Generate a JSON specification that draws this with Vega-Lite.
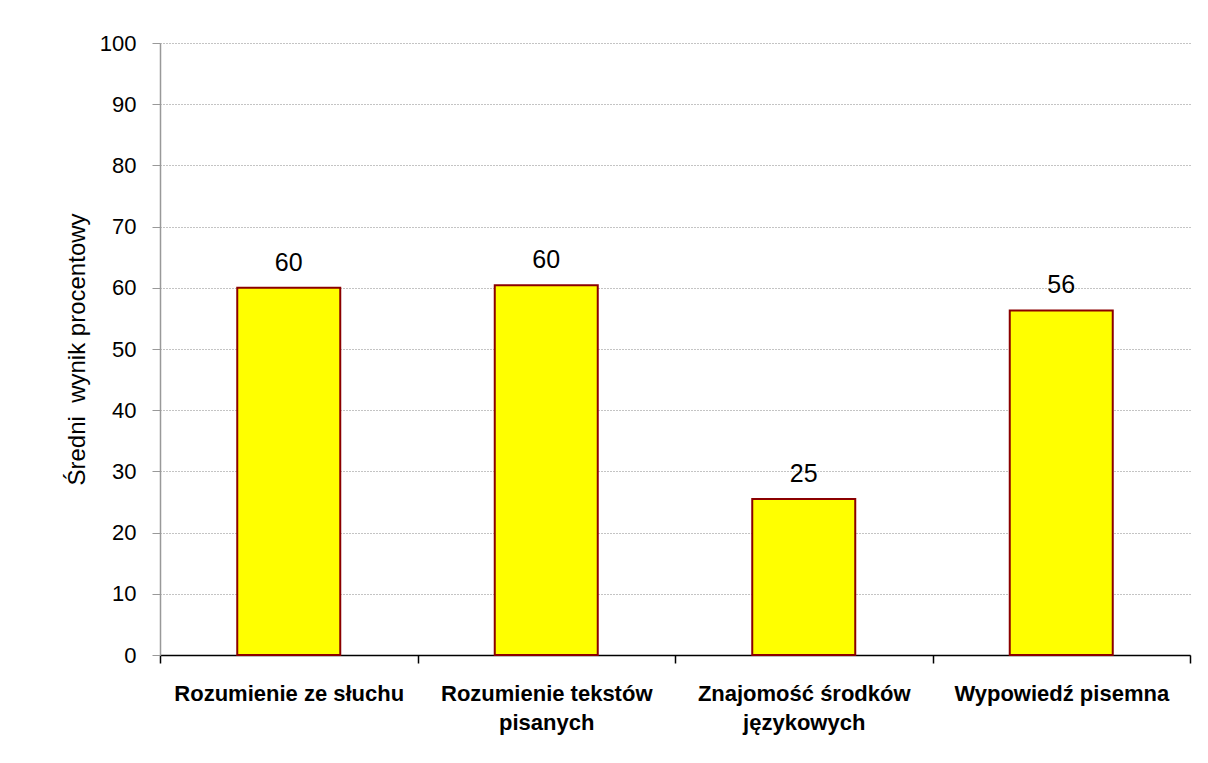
{
  "$schema": "https://vega.github.io/schema/vega-lite/v6.json",
  "autosize": "none",
  "padding": {"left": 160, "top": 43, "right": 18, "bottom": 108},
  "width": 1030,
  "height": 612,
  "background": "white",
  "config": {"view": {"stroke": null}, "font": "Liberation Sans"},
  "data": {
    "values": [
      {"kategoria": "Rozumienie ze słuchu", "wynik": 60.0, "etykieta": "60"},
      {"kategoria": "Rozumienie tekstów pisanych", "wynik": 60.4, "etykieta": "60"},
      {"kategoria": "Znajomość środków językowych", "wynik": 25.5, "etykieta": "25"},
      {"kategoria": "Wypowiedź pisemna", "wynik": 56.3, "etykieta": "56"}
    ]
  },
  "encoding": {
    "x": {
      "field": "kategoria",
      "type": "nominal",
      "sort": null,
      "scale": {"paddingInner": 0, "paddingOuter": 0},
      "axis": {
        "title": null,
        "labelAngle": 0,
        "labelFont": "Liberation Sans",
        "labelFontWeight": "bold",
        "labelFontSize": 22,
        "labelColor": "black",
        "labelPadding": 20,
        "labelLineHeight": 29,
        "labelBaseline": "top",
        "labelLimit": 0,
        "labelExpr": "datum.label == 'Rozumienie tekstów pisanych' ? ['Rozumienie tekstów', 'pisanych'] : datum.label == 'Znajomość środków językowych' ? ['Znajomość środków', 'językowych'] : datum.label",
        "domainColor": "black",
        "domainWidth": 1.5,
        "tickColor": "black",
        "tickWidth": 1.5,
        "tickSize": 8,
        "tickBand": "extent",
        "grid": false
      }
    },
    "y": {
      "field": "wynik",
      "type": "quantitative",
      "scale": {"domain": [0, 100], "nice": false},
      "axis": {
        "title": "Średni\u00a0 wynik procentowy",
        "titleFont": "Liberation Sans",
        "titleFontWeight": "normal",
        "titleFontSize": 24,
        "titleColor": "black",
        "titlePadding": 10,
        "values": [0, 10, 20, 30, 40, 50, 60, 70, 80, 90, 100],
        "labelFontSize": 22,
        "labelColor": "black",
        "labelPadding": 16,
        "tickSize": 8,
        "tickColor": "#999999",
        "domainColor": "#999999",
        "domainWidth": 1.5,
        "grid": true,
        "gridColor": "#888888",
        "gridDash": [1, 2],
        "gridWidth": 1
      }
    }
  },
  "layer": [
    {
      "mark": {"type": "bar", "color": "#FFFF00", "stroke": "#8B0000", "strokeWidth": 2, "width": {"band": 0.4}}
    },
    {
      "mark": {"type": "text", "font": "Liberation Sans", "fontSize": 25, "color": "black", "baseline": "alphabetic", "dy": -17},
      "encoding": {"text": {"field": "etykieta"}}
    }
  ]
}
